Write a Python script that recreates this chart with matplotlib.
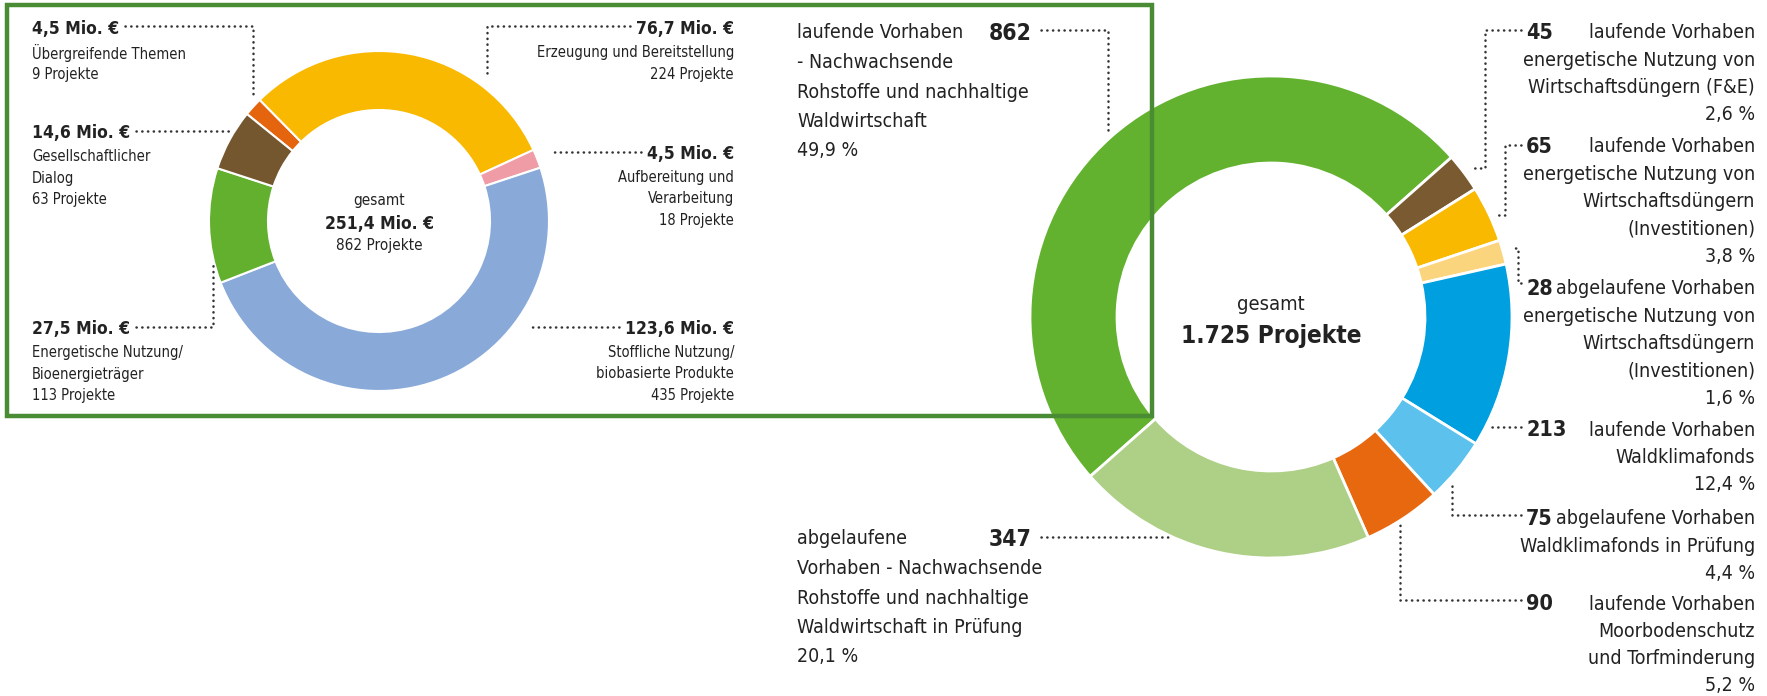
import matplotlib
matplotlib.use("Agg")
import matplotlib.pyplot as plt
from matplotlib import font_manager
from matplotlib.patches import Rectangle

# Schrift: moeglichst schmale Sans
fonts = font_manager.fontManager.ttflist
names = {f.name for f in fonts}
if "Liberation Sans Narrow" in names:
    plt.rcParams["font.family"] = ["Liberation Sans Narrow", "DejaVu Sans"]
elif any(f.name == "DejaVu Sans" and "condensed" in str(f.stretch) for f in fonts):
    plt.rcParams["font.family"] = ["DejaVu Sans"]
    plt.rcParams["font.stretch"] = "condensed"
else:
    plt.rcParams["font.family"] = ["Liberation Sans", "DejaVu Sans"]

W, H = 1767, 696
TXT = "#222222"
DOT = "#333333"

# ---- Daten links: Foerdermittel nach Themen ----
left_values = [4.5, 76.7, 4.5, 123.6, 27.5, 14.6]
left_projects = [9, 224, 18, 435, 113, 63]
left_names = [
    ["Übergreifende Themen"],
    ["Erzeugung und Bereitstellung"],
    ["Aufbereitung und", "Verarbeitung"],
    ["Stoffliche Nutzung/", "biobasierte Produkte"],
    ["Energetische Nutzung/", "Bioenergieträger"],
    ["Gesellschaftlicher", "Dialog"],
]
left_colors = ["#e5650f", "#f9b900", "#ef9ca6", "#89aad9", "#62b02e", "#74562f"]
left_total = 251.4
left_total_projects = 862

# ---- Daten rechts: Vorhaben ----
right_counts = [862, 45, 65, 28, 213, 75, 90, 347]
right_shares = [49.9, 2.6, 3.8, 1.6, 12.4, 4.4, 5.2, 20.1]
right_names = [
    ["laufende Vorhaben", "- Nachwachsende", "Rohstoffe und nachhaltige", "Waldwirtschaft"],
    ["laufende Vorhaben", "energetische Nutzung von", "Wirtschaftsdüngern (F&E)"],
    ["laufende Vorhaben", "energetische Nutzung von", "Wirtschaftsdüngern", "(Investitionen)"],
    ["abgelaufene Vorhaben", "energetische Nutzung von", "Wirtschaftsdüngern", "(Investitionen)"],
    ["laufende Vorhaben", "Waldklimafonds"],
    ["abgelaufene Vorhaben", "Waldklimafonds in Prüfung"],
    ["laufende Vorhaben", "Moorbodenschutz", "und Torfminderung"],
    ["abgelaufene", "Vorhaben - Nachwachsende", "Rohstoffe und nachhaltige", "Waldwirtschaft in Prüfung"],
]
right_colors = ["#63b22f", "#7a5a30", "#f9b900", "#fbd47e", "#009fe0", "#5cc1ec", "#e8680f", "#aecf86"]
right_total = 1725


def de(x):
    return f"{x:.1f}".replace(".", ",")


fig = plt.figure(figsize=(W / 100, H / 100), dpi=100)
ax = fig.add_axes([0, 0, 1, 1])


def Y(y):
    return H - y


# ---- Ringe zuerst (pie setzt die Achsengrenzen neu) ----
ax.pie(left_values, colors=left_colors, radius=170, center=(379, Y(221)),
       startangle=141, counterclock=False,
       wedgeprops=dict(width=59, edgecolor="white", linewidth=1.5))
ax.pie(right_counts, colors=right_colors, radius=241, center=(1271, Y(317)),
       startangle=221.4, counterclock=False,
       wedgeprops=dict(width=87, edgecolor="white", linewidth=2))

ax.set_xlim(0, W)
ax.set_ylim(0, H)
ax.set_aspect("auto")
ax.axis("off")
renderer = fig.canvas.get_renderer()


def leader(pts):
    xs = [p[0] for p in pts]
    ys = [Y(p[1]) for p in pts]
    ax.plot(xs, ys, color=DOT, lw=1.8, linestyle=(0, (0.1, 2.2)),
            dash_capstyle="round", zorder=3)


def txt(x, y, s, size, ha="left", bold=False):
    return ax.text(x, Y(y), s, fontsize=size, ha=ha, va="center_baseline", color=TXT,
                   fontweight="bold" if bold else "normal")


def x_edges(t):
    bb = t.get_window_extent(renderer)
    return bb.x0, bb.x1


# ---- linker Ring: Texte ----
txt(379, 199, "gesamt", 11, ha="center")
txt(379, 222, de(left_total) + " Mio. €", 12.5, ha="center", bold=True)
txt(379, 244, f"{left_total_projects} Projekte", 11, ha="center")

# Position, Ausrichtung und Hilfslinie (ohne Textende) je Segment
left_layout = [
    (32, 27, "left", [(253, 26), (253, 99)]),
    (734, 27, "right", [(487, 26), (487, 76)]),
    (734, 152, "right", [(552, 152)]),
    (734, 327, "right", [(532, 327)]),
    (32, 327, "left", [(213, 327), (213, 262)]),
    (32, 131, "left", [(232, 131)]),
]
for i, (x, y, ha, pts) in enumerate(left_layout):
    t = txt(x, y, de(left_values[i]) + " Mio. €", 12.5, ha=ha, bold=True)
    lines = left_names[i] + [f"{left_projects[i]} Projekte"]
    for k, line in enumerate(lines):
        txt(x, y + 24 + 21.5 * k, line, 10.5, ha=ha)
    x0, x1 = x_edges(t)
    start = (x1 + 6, pts[0][1]) if ha == "left" else (x0 - 6, pts[0][1])
    leader([start] + pts)

# ---- rechter Ring: Texte ----
txt(1271, 302, "gesamt", 14.5, ha="center")
txt(1271, 334, f"{right_total:,d}".replace(",", ".") + " Projekte", 17.5, ha="center", bold=True)

# Beschriftungen links vom rechten Ring (Block links, Zahl rechts)
for i, y0, pts in [(0, 31, [(1108, 30), (1108, 133)]),
                   (7, 537, [(1170, 537)])]:
    lines = right_names[i] + [de(right_shares[i]) + " %"]
    for k, line in enumerate(lines):
        txt(797, y0 + 29.5 * k, line, 14)
    t = txt(1032, y0, str(right_counts[i]), 16.5, ha="right", bold=True)
    x0, x1 = x_edges(t)
    leader([(x1 + 9, pts[0][1])] + pts)

# Beschriftungen rechts (Zahl links, Text rechtsbuendig)
right_layout = [
    (1, 31, [(1485, 30), (1485, 168), (1470, 168)]),
    (2, 145, [(1505, 145), (1505, 215), (1497, 215)]),
    (3, 287, [(1518, 283), (1518, 248), (1510, 248)]),
    (4, 428, [(1492, 427)]),
    (5, 517, [(1452, 515), (1452, 482)]),
    (6, 602, [(1400, 600), (1400, 520)]),
]
for i, y0, pts in right_layout:
    t = txt(1526, y0, str(right_counts[i]), 15.5, bold=True)
    lines = right_names[i] + [de(right_shares[i]) + " %"]
    for k, line in enumerate(lines):
        txt(1755, y0 + 27.3 * k, line, 14, ha="right")
    x0, x1 = x_edges(t)
    leader([(x0 - 5, pts[0][1])] + pts)

# gruener Rahmen um den linken Teil
ax.add_patch(Rectangle((7, Y(416)), 1145, 411, fill=False,
                       edgecolor="#4a8c34", lw=3.2, zorder=10))

fig.savefig("out.png", dpi=100)
